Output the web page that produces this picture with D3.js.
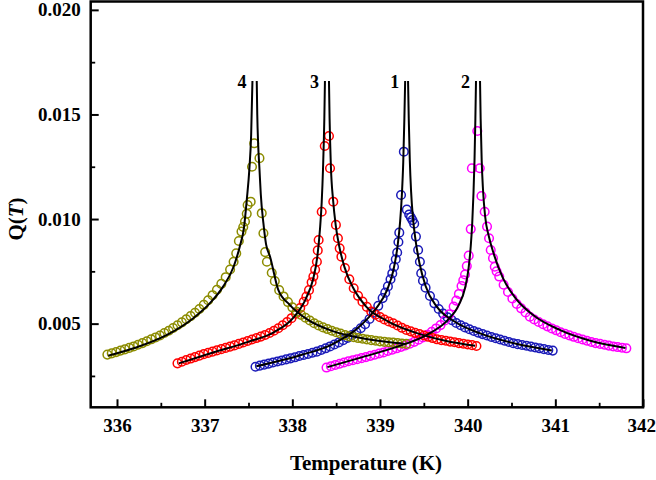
<!DOCTYPE html>
<html lang="en">
<head>
<meta charset="UTF-8">
<script src="https://d3js.org/d3.v7.min.js" charset="utf-8"></script>
<title>Q(T) vs Temperature</title>
<style>
    body { margin: 0; background: #fff; }
    svg text { font-family: "Liberation Serif", "Times New Roman", serif; font-weight: bold; fill: #000; }
</style>
</head>
<body>
<div class="chart"></div>
<script>
    const curve1Points = [
        [337.58,0.00294],[337.63,0.00299],[337.68,0.00304],[337.73,0.00309],[337.78,0.00314],[337.83,0.00319],
        [337.88,0.00324],[337.93,0.00329],[337.98,0.00334],[338.03,0.00339],[338.08,0.00345],[338.13,0.00350],
        [338.18,0.00355],[338.23,0.00361],[338.28,0.00366],[338.33,0.00374],[338.38,0.00382],[338.43,0.00391],
        [338.48,0.00400],[338.53,0.00410],[338.58,0.00421],[338.63,0.00432],[338.68,0.00445],[338.73,0.00460],
        [338.78,0.00478],[338.83,0.00497],[338.88,0.00522],[338.93,0.00552],[338.98,0.00585],[339.03,0.00622],
        [339.06,0.00648],[339.09,0.00678],[339.12,0.00712],[339.14,0.00740],[339.16,0.00772],[339.18,0.00808],
        [339.196,0.00840],[339.21,0.00890],[339.22,0.00935],[339.24,0.01115],[339.272,0.01322],
        [339.306,0.01045],[339.333,0.01022],[339.352,0.01008],[339.37,0.00995],[339.39,0.00978],[339.41,0.00916],
        [339.435,0.00852],[339.455,0.00796],[339.47,0.00741],[339.49,0.00705],
        [339.52,0.00672],[339.57,0.00632],[339.62,0.00597],[339.67,0.00570],[339.72,0.00548],[339.77,0.00530],
        [339.82,0.00516],[339.87,0.00503],[339.92,0.00492],[339.97,0.00482],[340.02,0.00473],[340.07,0.00465],
        [340.12,0.00457],[340.17,0.00450],[340.22,0.00443],[340.27,0.00436],[340.32,0.00430],[340.37,0.00424],
        [340.42,0.00418],[340.47,0.00412],[340.52,0.00406],[340.57,0.00402],[340.62,0.00398],[340.67,0.00394],
        [340.72,0.00390],[340.77,0.00386],[340.82,0.00382],[340.87,0.00378],[340.92,0.00374],[340.97,0.00371]
    ];
    const curve2Points = [
        [338.39,0.00290],[338.44,0.00296],[338.49,0.00302],[338.54,0.00308],[338.59,0.00314],[338.64,0.00320],
        [338.69,0.00325],[338.74,0.00330],[338.79,0.00335],[338.84,0.00340],[338.89,0.00346],[338.94,0.00351],
        [338.99,0.00357],[339.04,0.00362],[339.09,0.00369],[339.14,0.00375],[339.19,0.00382],[339.24,0.00389],
        [339.29,0.00396],[339.34,0.00404],[339.39,0.00413],[339.44,0.00423],[339.49,0.00434],[339.54,0.00447],
        [339.59,0.00461],[339.64,0.00477],[339.69,0.00493],[339.74,0.00515],[339.79,0.00545],[339.84,0.00582],
        [339.87,0.00610],[339.90,0.00642],[339.93,0.00680],[339.95,0.00707],[339.97,0.00735],[339.99,0.00775],
        [340.012,0.00825],[340.035,0.00952],[340.048,0.01243],[340.11,0.01421],
        [340.138,0.01243],[340.157,0.01110],[340.194,0.01035],[340.221,0.00964],[340.244,0.00908],
        [340.263,0.00852],[340.289,0.00813],[340.309,0.00772],[340.33,0.00750],
        [340.36,0.00725],[340.41,0.00686],[340.46,0.00651],[340.51,0.00620],[340.56,0.00594],[340.61,0.00573],
        [340.66,0.00553],[340.71,0.00533],[340.76,0.00520],[340.81,0.00508],[340.86,0.00497],[340.91,0.00487],
        [340.96,0.00477],[341.01,0.00468],[341.06,0.00459],[341.11,0.00451],[341.16,0.00444],[341.21,0.00437],
        [341.26,0.00430],[341.31,0.00424],[341.36,0.00418],[341.41,0.00412],[341.46,0.00407],[341.51,0.00403],
        [341.56,0.00399],[341.61,0.00395],[341.66,0.00391],[341.71,0.00388],[341.76,0.00385],[341.81,0.00382]
    ];
    const curve3Points = [
        [336.69,0.00310],[336.74,0.00318],[336.79,0.00326],[336.84,0.00333],[336.89,0.00340],[336.94,0.00347],
        [336.99,0.00354],[337.04,0.00360],[337.09,0.00366],[337.14,0.00372],[337.19,0.00378],[337.24,0.00384],
        [337.29,0.00390],[337.34,0.00396],[337.39,0.00403],[337.44,0.00410],[337.49,0.00417],[337.54,0.00424],
        [337.59,0.00431],[337.64,0.00438],[337.69,0.00446],[337.74,0.00455],[337.79,0.00466],[337.84,0.00478],
        [337.89,0.00492],[337.94,0.00508],[337.99,0.00526],[338.04,0.00548],[338.09,0.00575],[338.13,0.00604],
        [338.16,0.00629],[338.19,0.00660],[338.22,0.00698],[338.24,0.00725],[338.26,0.00758],[338.28,0.00796],
        [338.29,0.00850],[338.30,0.00900],[338.335,0.01035],[338.37,0.01349],
        [338.418,0.01397],[338.43,0.01243],[338.467,0.01083],[338.497,0.00972],[338.52,0.00908],
        [338.54,0.00860],[338.56,0.00820],
        [338.60,0.00766],[338.65,0.00712],[338.70,0.00669],[338.75,0.00633],[338.80,0.00605],[338.85,0.00580],
        [338.90,0.00558],[338.95,0.00543],[339.00,0.00531],[339.05,0.00520],[339.10,0.00510],[339.15,0.00502],
        [339.20,0.00491],[339.25,0.00480],[339.30,0.00470],[339.35,0.00463],[339.40,0.00456],[339.45,0.00450],
        [339.50,0.00443],[339.55,0.00437],[339.60,0.00431],[339.65,0.00425],[339.70,0.00421],[339.75,0.00418],
        [339.80,0.00414],[339.85,0.00411],[339.90,0.00407],[339.95,0.00404],[340.00,0.00400],[340.05,0.00397],
        [340.10,0.00393]
    ];
    const curve4Points = [
        [335.89,0.00352],[335.94,0.00358],[335.99,0.00364],[336.04,0.00371],[336.09,0.00377],[336.14,0.00384],
        [336.19,0.00391],[336.24,0.00399],[336.29,0.00407],[336.34,0.00416],[336.39,0.00425],[336.44,0.00434],
        [336.49,0.00443],[336.54,0.00455],[336.59,0.00466],[336.64,0.00479],[336.69,0.00492],[336.74,0.00506],
        [336.79,0.00521],[336.84,0.00536],[336.89,0.00552],[336.94,0.00570],[336.99,0.00590],[337.04,0.00612],
        [337.09,0.00636],[337.14,0.00662],[337.19,0.00690],[337.24,0.00722],[337.29,0.00759],[337.33,0.00796],
        [337.36,0.00836],[337.39,0.00895],[337.42,0.00940],[337.44,0.00962],[337.46,0.00988],
        [337.48,0.01025],[337.49,0.01067],[337.525,0.01083],[337.54,0.01250],[337.565,0.01362],
        [337.625,0.01291],[337.651,0.01028],[337.67,0.00932],[337.69,0.00842],[337.71,0.00796],
        [337.765,0.00743],[337.80,0.00703],
        [337.85,0.00660],[337.90,0.00630],[337.95,0.00603],[338.00,0.00578],[338.05,0.00557],
        [338.10,0.00542],[338.15,0.00528],[338.20,0.00515],[338.25,0.00502],[338.30,0.00491],[338.35,0.00482],
        [338.40,0.00474],[338.45,0.00466],[338.50,0.00459],[338.55,0.00452],[338.60,0.00445],[338.65,0.00439],
        [338.70,0.00435],[338.75,0.00431],[338.80,0.00428],[338.85,0.00424],[338.90,0.00421],[338.95,0.00418],
        [339.00,0.00415],[339.05,0.00413],[339.10,0.00411],[339.15,0.00409],[339.20,0.00407],[339.25,0.00405],
        [339.30,0.00403]
    ];

    // fitted curves, below and above Tc
    const curve1FitLeft = [[337.59,0.00296],[338.10,0.0035],[338.45,0.0040],[338.75,0.0048],[338.95,0.0057],[339.08,0.0066],
        [339.15,0.0075],[339.20,0.0087],[339.23,0.0099],[339.25,0.0112],[339.265,0.0127],[339.278,0.0148],[339.287,0.0166]];
    const curve1FitRight = [[339.32,0.0166],[339.328,0.0148],[339.34,0.0128],[339.355,0.0113],[339.375,0.0101],[339.405,0.0090],
        [339.45,0.0079],[339.52,0.0068],[339.65,0.0058],[339.85,0.0051],[340.15,0.00452],[340.55,0.00404],[340.96,0.00372]];
    const curve2FitLeft = [[338.40,0.00292],[338.8,0.0034],[339.2,0.0039],[339.55,0.0045],[339.78,0.0052],[339.90,0.0059],
        [339.97,0.0067],[340.012,0.0077],[340.035,0.0087],[340.052,0.0098],[340.066,0.0112],[340.078,0.0128],[340.088,0.0148],[340.095,0.0166]];
    const curve2FitRight = [[340.141,0.0166],[340.148,0.0148],[340.16,0.0128],[340.175,0.0114],[340.2,0.0101],[340.24,0.0092],
        [340.3,0.0083],[340.4,0.0072],[340.55,0.0062],[340.75,0.0054],[341.05,0.0047],[341.4,0.00418],[341.80,0.00384]];
    const curve3FitLeft = [[336.705,0.0031],[337.095,0.00362],[337.495,0.00413],[337.795,0.0046],[338.015,0.0053],[338.155,0.0062],
        [338.235,0.0071],[338.285,0.0082],[338.315,0.0095],[338.335,0.0108],[338.35,0.0124],[338.365,0.0148],[338.372,0.0166]];
    const curve3FitRight = [[338.418,0.0166],[338.425,0.0148],[338.44,0.0125],[338.465,0.0109],[338.495,0.0097],[338.535,0.0087],
        [338.595,0.0077],[338.695,0.0067],[338.845,0.0058],[339.095,0.0051],[339.395,0.00458],[339.745,0.00418],[340.085,0.00394]];
    const curve4FitLeft = [[335.90,0.00347],[336.19,0.00382],[336.57,0.00446],[336.87,0.00526],[337.06,0.00598],[337.21,0.00677],
        [337.33,0.00772],[337.40,0.00868],[337.45,0.00964],[337.48,0.01091],[337.51,0.0124],[337.53,0.0140],[337.545,0.0166]];
    const curve4FitRight = [[337.594,0.0166],[337.60,0.0150],[337.61,0.0136],[337.625,0.0124],[337.64,0.0112],[337.67,0.0098],
        [337.70,0.0088],[337.746,0.0082],[337.84,0.00661],[337.97,0.0059],[338.17,0.0052],[338.47,0.00463],
        [338.77,0.00432],[339.07,0.00413],[339.29,0.00403]];

    const curveLabels = ["1", "2", "3", "4"];
    const xMajorTicks = [336, 337, 338, 339, 340, 341, 342];
    const xMinorTicks = [336.5, 337.5, 338.5, 339.5, 340.5, 341.5];
    const yMajorTicks = [0.005, 0.010, 0.015, 0.020];
    const yMinorTicks = [0.0025, 0.0075, 0.0125, 0.0175];

    const series = [
        {label: curveLabels[0], points: curve1Points, fits: [curve1FitLeft, curve1FitRight], color: "#1a1ab8"},
        {label: curveLabels[1], points: curve2Points, fits: [curve2FitLeft, curve2FitRight], color: "#ff00ff"},
        {label: curveLabels[2], points: curve3Points, fits: [curve3FitLeft, curve3FitRight], color: "#ff0000"},
        {label: curveLabels[3], points: curve4Points, fits: [curve4FitLeft, curve4FitRight], color: "#8c8c00"}
    ];

    const svgWidth = 656;
    const svgHeight = 480;
    const margin = {top: 1.5, right: 13, bottom: 72.7, left: 90.7};

    const svg = d3.select(".chart").append("svg")
        .attr("width", svgWidth)
        .attr("height", svgHeight);

    const x = d3.scaleLinear().domain([335.7, 342]).range([margin.left, svgWidth - margin.right]);
    const y = d3.scaleLinear().domain([0.001, 0.0204]).range([svgHeight - margin.bottom, margin.top]);

    const bottomY = svgHeight - margin.bottom;

    const styleTicks = (g, width) => {
        g.select(".domain").remove();
        g.selectAll(".tick line").attr("stroke", "#000").attr("stroke-width", width);
    };

    // x axis, ticks pointing inward
    svg.append("g")
        .attr("transform", `translate(0,${bottomY})`)
        .call(d3.axisBottom(x).tickValues(xMinorTicks).tickSize(-4.5).tickFormat(""))
        .call(g => styleTicks(g, 1.8));
    svg.append("g")
        .attr("transform", `translate(0,${bottomY})`)
        .call(d3.axisBottom(x).tickValues(xMajorTicks).tickSize(-8).tickPadding(11).tickFormat(d3.format("d")))
        .call(g => styleTicks(g, 2))
        .call(g => g.selectAll("text").attr("font-size", 19).attr("font-family", null))
        // last label sits at the page edge, keep it inside
        .call(g => g.selectAll("text").filter(d => d === 342).attr("text-anchor", "end").attr("x", 12.5));

    // y axis
    svg.append("g")
        .attr("transform", `translate(${margin.left},0)`)
        .call(d3.axisLeft(y).tickValues(yMinorTicks).tickSize(-4.5).tickFormat(""))
        .call(g => styleTicks(g, 1.8));
    svg.append("g")
        .attr("transform", `translate(${margin.left},0)`)
        .call(d3.axisLeft(y).tickValues(yMajorTicks).tickSize(-8).tickPadding(10).tickFormat(d3.format(".3f")))
        .call(g => styleTicks(g, 2))
        .call(g => g.selectAll("text").attr("font-size", 19).attr("font-family", null));

    // frame
    svg.append("rect")
        .attr("x", margin.left)
        .attr("y", margin.top)
        .attr("width", svgWidth - margin.right - margin.left)
        .attr("height", bottomY - margin.top)
        .attr("fill", "none")
        .attr("stroke", "#000")
        .attr("stroke-width", 2.5);

    // data circles
    series.forEach(s => {
        svg.append("g")
            .selectAll("circle")
            .data(s.points)
            .enter()
            .append("circle")
            .attr("cx", d => x(d[0]))
            .attr("cy", d => y(d[1]))
            .attr("r", 4.3)
            .attr("fill", "none")
            .attr("stroke", s.color)
            .attr("stroke-width", 1.5);
    });

    // fit lines on top
    const fitLine = d3.line()
        .x(d => x(d[0]))
        .y(d => y(d[1]))
        .curve(d3.curveMonotoneX);

    series.forEach(s => {
        s.fits.forEach(branch => {
            svg.append("path")
                .attr("d", fitLine(branch))
                .attr("fill", "none")
                .attr("stroke", "#000")
                .attr("stroke-width", 2);
        });
        const top = s.fits[0][s.fits[0].length - 1];
        svg.append("text")
            .attr("x", x(top[0]) - 6)
            .attr("y", y(top[1]) + 7.5)
            .attr("text-anchor", "end")
            .attr("font-size", 18)
            .text(s.label);
    });

    // axis titles
    svg.append("text")
        .attr("x", 366)
        .attr("y", 470)
        .attr("text-anchor", "middle")
        .attr("font-size", 21)
        .text("Temperature (K)");

    const yTitle = svg.append("text")
        .attr("transform", "translate(23,219) rotate(-90)")
        .attr("text-anchor", "middle")
        .attr("font-size", 21);
    yTitle.append("tspan").text("Q(");
    yTitle.append("tspan").attr("font-style", "italic").text("T");
    yTitle.append("tspan").text(")");
</script>
</body>
</html>
